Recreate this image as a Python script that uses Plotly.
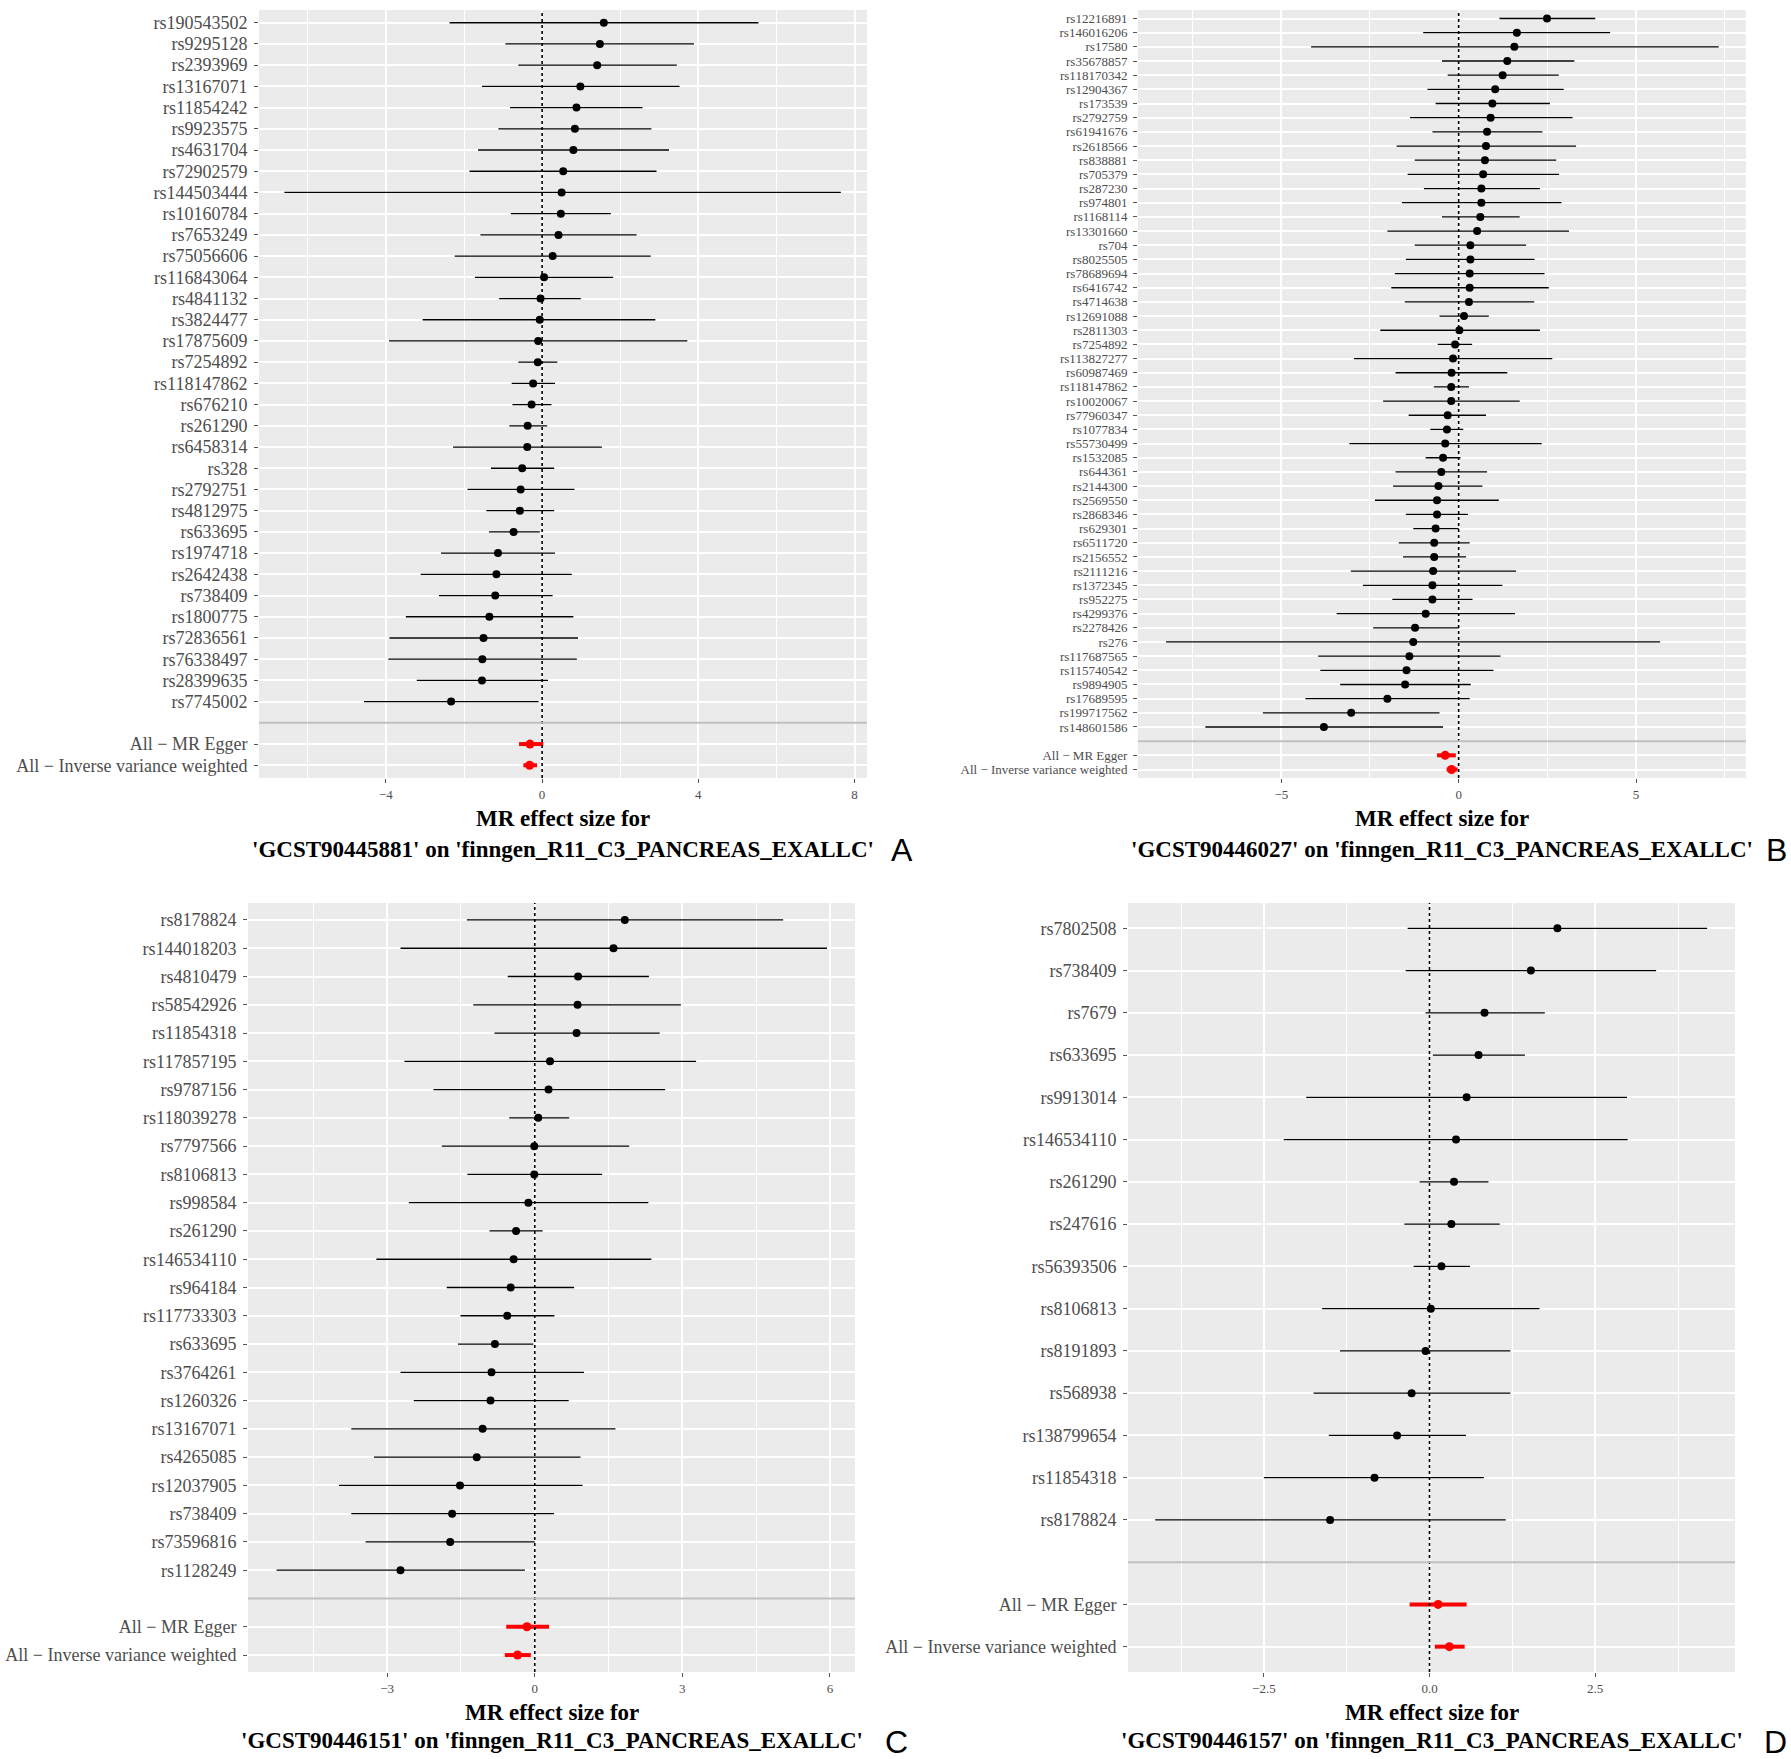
import plotly.graph_objects as go

W, H = 1791, 1759

# ---------------- data ----------------
sum_labels = ["All \u2212 MR Egger", "All \u2212 Inverse variance weighted"]

snps_a = ["rs190543502", "rs9295128", "rs2393969", "rs13167071", "rs11854242", "rs9923575",
          "rs4631704", "rs72902579", "rs144503444", "rs10160784", "rs7653249", "rs75056606",
          "rs116843064", "rs4841132", "rs3824477", "rs17875609", "rs7254892", "rs118147862",
          "rs676210", "rs261290", "rs6458314", "rs328", "rs2792751", "rs4812975", "rs633695",
          "rs1974718", "rs2642438", "rs738409", "rs1800775", "rs72836561", "rs76338497",
          "rs28399635", "rs7745002"]
beta_a = [1.58, 1.48, 1.41, 0.98, 0.88, 0.84, 0.80, 0.54, 0.50, 0.48, 0.42, 0.27, 0.05, -0.04,
          -0.06, -0.10, -0.11, -0.23, -0.27, -0.37, -0.38, -0.51, -0.55, -0.57, -0.73, -1.13,
          -1.17, -1.20, -1.35, -1.50, -1.53, -1.54, -2.33]
lo_a = [-2.37, -0.94, -0.61, -1.54, -0.82, -1.12, -1.64, -1.86, -6.60, -0.80, -1.58, -2.24,
        -1.72, -1.10, -3.06, -3.92, -0.61, -0.78, -0.76, -0.84, -2.28, -1.31, -1.91, -1.43,
        -1.36, -2.59, -3.11, -2.64, -3.49, -3.91, -3.94, -3.21, -4.56]
hi_a = [5.54, 3.89, 3.45, 3.52, 2.57, 2.80, 3.25, 2.93, 7.65, 1.76, 2.42, 2.78, 1.82, 0.99,
        2.90, 3.72, 0.39, 0.33, 0.24, 0.13, 1.53, 0.31, 0.83, 0.31, -0.06, 0.33, 0.76, 0.27,
        0.80, 0.92, 0.89, 0.15, -0.09]
sum_beta_a = [-0.31, -0.32]
sum_lo_a = [-0.59, -0.48]
sum_hi_a = [0.03, -0.13]

snps_b = ["rs12216891", "rs146016206", "rs17580", "rs35678857", "rs118170342", "rs12904367",
          "rs173539", "rs2792759", "rs61941676", "rs2618566", "rs838881", "rs705379", "rs287230",
          "rs974801", "rs1168114", "rs13301660", "rs704", "rs8025505", "rs78689694", "rs6416742",
          "rs4714638", "rs12691088", "rs2811303", "rs7254892", "rs113827277", "rs60987469",
          "rs118147862", "rs10020067", "rs77960347", "rs1077834", "rs55730499", "rs1532085",
          "rs644361", "rs2144300", "rs2569550", "rs2868346", "rs629301", "rs6511720",
          "rs2156552", "rs2111216", "rs1372345", "rs952275", "rs4299376", "rs2278426", "rs276",
          "rs117687565", "rs115740542", "rs9894905", "rs17689595", "rs199717562", "rs148601586"]
beta_b = [2.49, 1.64, 1.57, 1.37, 1.24, 1.03, 0.95, 0.90, 0.80, 0.77, 0.74, 0.69, 0.64, 0.64,
          0.61, 0.52, 0.33, 0.33, 0.31, 0.31, 0.29, 0.15, 0.02, -0.10, -0.16, -0.20, -0.21,
          -0.21, -0.31, -0.33, -0.38, -0.44, -0.49, -0.57, -0.61, -0.61, -0.65, -0.69, -0.69,
          -0.72, -0.74, -0.74, -0.93, -1.23, -1.28, -1.39, -1.47, -1.51, -2.01, -3.03, -3.80]
lo_b = [1.15, -1.00, -4.16, -0.47, -0.31, -0.88, -0.65, -1.37, -0.74, -1.75, -1.24, -1.44,
        -0.98, -1.60, -0.47, -2.01, -1.24, -1.49, -1.80, -1.90, -1.52, -0.54, -2.21, -0.59,
        -2.95, -1.78, -0.70, -2.13, -1.41, -0.80, -3.08, -0.93, -1.78, -1.85, -2.36, -1.49,
        -1.28, -1.69, -1.57, -3.04, -2.70, -1.87, -3.44, -2.41, -8.25, -3.96, -3.90, -3.34,
        -4.32, -5.52, -7.14]
hi_b = [3.85, 4.27, 7.33, 3.26, 2.82, 2.96, 2.57, 3.21, 2.36, 3.31, 2.75, 2.83, 2.29, 2.90,
        1.72, 3.11, 1.90, 2.14, 2.42, 2.54, 2.13, 0.85, 2.29, 0.38, 2.64, 1.37, 0.29, 1.72,
        0.77, 0.13, 2.34, 0.05, 0.80, 0.67, 1.13, 0.26, 0.00, 0.31, 0.21, 1.62, 1.23, 0.39,
        1.59, 0.00, 5.68, 1.18, 0.98, 0.34, 0.31, -0.54, -0.44]
sum_beta_b = [-0.38, -0.20]
sum_lo_b = [-0.61, -0.34]
sum_hi_b = [-0.08, -0.03]

snps_c = ["rs8178824", "rs144018203", "rs4810479", "rs58542926", "rs11854318", "rs117857195",
          "rs9787156", "rs118039278", "rs7797566", "rs8106813", "rs998584", "rs261290",
          "rs146534110", "rs964184", "rs117733303", "rs633695", "rs3764261", "rs1260326",
          "rs13167071", "rs4265085", "rs12037905", "rs738409", "rs73596816", "rs1128249"]
beta_c = [1.83, 1.60, 0.88, 0.87, 0.85, 0.31, 0.28, 0.07, -0.01, -0.01, -0.13, -0.38, -0.43,
          -0.49, -0.56, -0.81, -0.88, -0.90, -1.06, -1.18, -1.52, -1.68, -1.72, -2.73]
lo_c = [-1.38, -2.73, -0.55, -1.25, -0.82, -2.65, -2.06, -0.52, -1.89, -1.37, -2.56, -0.92,
        -3.22, -1.79, -1.51, -1.56, -2.73, -2.46, -3.73, -3.27, -3.98, -3.73, -3.44, -5.25]
hi_c = [5.05, 5.94, 2.32, 2.97, 2.54, 3.28, 2.65, 0.70, 1.92, 1.37, 2.31, 0.16, 2.37, 0.80,
        0.40, -0.03, 1.00, 0.69, 1.64, 0.93, 0.97, 0.39, 0.00, -0.20]
sum_beta_c = [-0.16, -0.35]
sum_lo_c = [-0.58, -0.61]
sum_hi_c = [0.29, -0.08]

snps_d = ["rs7802508", "rs738409", "rs7679", "rs633695", "rs9913014", "rs146534110", "rs261290",
          "rs247616", "rs56393506", "rs8106813", "rs8191893", "rs568938", "rs138799654",
          "rs11854318", "rs8178824"]
beta_d = [1.93, 1.53, 0.83, 0.74, 0.56, 0.40, 0.37, 0.33, 0.18, 0.02, -0.06, -0.27, -0.49,
          -0.83, -1.50]
lo_d = [-0.33, -0.36, -0.06, 0.05, -1.86, -2.20, -0.15, -0.38, -0.24, -1.62, -1.35, -1.75,
        -1.52, -2.50, -4.14]
hi_d = [4.19, 3.42, 1.74, 1.44, 2.98, 2.99, 0.89, 1.06, 0.61, 1.66, 1.22, 1.22, 0.55, 0.82,
        1.15]
sum_beta_d = [0.13, 0.30]
sum_lo_d = [-0.30, 0.08]
sum_hi_d = [0.56, 0.53]

exposures = ["GCST90445881", "GCST90446027", "GCST90446151", "GCST90446157"]
outcome = "finngen_R11_C3_PANCREAS_EXALLC"
letters = ["A", "B", "C", "D"]

# ---------------- layout settings (pixels) ----------------
panels = [
    dict(snps=snps_a, beta=beta_a, lo=lo_a, hi=hi_a, sb=sum_beta_a, sl=sum_lo_a, sh=sum_hi_a,
         px=(259, 867), py=(10, 778), xr=[-7.25, 8.32], dt=4, mdt=2, fmt="", fs=18,
         t1=818, t2=849, let=(902, 850)),
    dict(snps=snps_b, beta=beta_b, lo=lo_b, hi=hi_b, sb=sum_beta_b, sl=sum_lo_b, sh=sum_hi_b,
         px=(1138, 1746), py=(10, 778), xr=[-9.04, 8.10], dt=5, mdt=2.5, fmt="", fs=13,
         t1=818, t2=849, let=(1776, 850)),
    dict(snps=snps_c, beta=beta_c, lo=lo_c, hi=hi_c, sb=sum_beta_c, sl=sum_lo_c, sh=sum_hi_c,
         px=(248, 855), py=(903, 1672), xr=[-5.83, 6.51], dt=3, mdt=1.5, fmt="", fs=18,
         t1=1712, t2=1740, let=(896, 1742)),
    dict(snps=snps_d, beta=beta_d, lo=lo_d, hi=hi_d, sb=sum_beta_d, sl=sum_lo_d, sh=sum_hi_d,
         px=(1128, 1735), py=(903, 1672), xr=[-4.55, 4.61], dt=2.5, mdt=1.25, fmt=".1f", fs=18,
         t1=1712, t2=1740, let=(1775, 1742)),
]

fig = go.Figure()
annotations = []
shapes = []
layout_axes = {}

for k, p in enumerate(panels):
    sfx = "" if k == 0 else str(k + 1)
    xr_, yr_ = "x" + sfx, "y" + sfx
    nsnp = len(p["snps"])
    labels = p["snps"] + sum_labels
    ypos = list(range(nsnp))
    ysum = [nsnp + 1, nsnp + 2]
    n = nsnp + 3

    fig.add_trace(go.Scatter(
        x=p["beta"], y=ypos, mode="markers", xaxis=xr_, yaxis=yr_, showlegend=False,
        marker=dict(color="black", size=8),
        error_x=dict(type="data", symmetric=False,
                     array=[h - b for h, b in zip(p["hi"], p["beta"])],
                     arrayminus=[b - l for b, l in zip(p["beta"], p["lo"])],
                     color="black", thickness=1.3, width=0),
        hoverinfo="skip"))
    fig.add_trace(go.Scatter(
        x=p["sb"], y=ysum, mode="markers", xaxis=xr_, yaxis=yr_, showlegend=False,
        marker=dict(color="#FF0000", size=9),
        error_x=dict(type="data", symmetric=False,
                     array=[h - b for h, b in zip(p["sh"], p["sb"])],
                     arrayminus=[b - l for b, l in zip(p["sb"], p["sl"])],
                     color="#FF0000", thickness=4, width=0),
        hoverinfo="skip"))

    xd = [p["px"][0] / W, p["px"][1] / W]
    yd = [1 - p["py"][1] / H, 1 - p["py"][0] / H]
    layout_axes["xaxis" + sfx] = dict(
        domain=xd, range=p["xr"], anchor=yr_, dtick=p["dt"], tick0=0, tickformat=p["fmt"],
        showgrid=True, gridcolor="white", gridwidth=1.6, zeroline=False, showline=False,
        ticks="outside", ticklen=4, tickcolor="#555555", tickwidth=1,
        tickfont=dict(family="Liberation Serif", size=13, color="#4D4D4D"),
        minor=dict(dtick=p["mdt"], tick0=0, showgrid=True, gridcolor="white", gridwidth=0.8,
                   ticks=""),
        fixedrange=True)
    layout_axes["yaxis" + sfx] = dict(
        domain=yd, range=[n - 1 + 0.6, -0.6], anchor=xr_,
        tickmode="array", tickvals=ypos + ysum, ticktext=labels,
        showgrid=True, gridcolor="white", gridwidth=1.6, zeroline=False, showline=False,
        ticks="outside", ticklen=4, tickcolor="#555555", tickwidth=1, ticklabelstandoff=3,
        tickfont=dict(family="Liberation Serif", size=p["fs"], color="#4D4D4D"),
        fixedrange=True)

    # zero reference line (dotted)
    shapes.append(dict(type="line", xref=xr_, yref="paper", x0=0, x1=0,
                       y0=yd[0], y1=yd[1],
                       line=dict(color="black", width=1.6, dash="dot"), layer="above"))
    # separator line at the blank row
    shapes.append(dict(type="line", xref="paper", yref=yr_, x0=xd[0], x1=xd[1],
                       y0=nsnp, y1=nsnp, line=dict(color="#C0C0C0", width=2),
                       layer="above"))

    cx = (p["px"][0] + p["px"][1]) / 2 / W
    annotations.append(dict(text="<b>MR effect size for</b>", xref="paper", yref="paper",
                            x=cx, y=1 - p["t1"] / H, xanchor="center", yanchor="middle",
                            showarrow=False,
                            font=dict(family="Liberation Serif", size=23, color="black")))
    annotations.append(dict(text="<b>'%s' on '%s'</b>" % (exposures[k], outcome),
                            xref="paper", yref="paper",
                            x=cx, y=1 - p["t2"] / H, xanchor="center", yanchor="middle",
                            showarrow=False,
                            font=dict(family="Liberation Serif", size=23, color="black")))
    annotations.append(dict(text=letters[k], xref="paper", yref="paper",
                            x=p["let"][0] / W, y=1 - p["let"][1] / H, xanchor="center",
                            yanchor="middle", showarrow=False,
                            font=dict(family="Liberation Sans", size=32, color="black")))

fig.update_layout(
    width=W, height=H, margin=dict(l=0, r=0, t=0, b=0),
    paper_bgcolor="white", plot_bgcolor="#EBEBEB",
    showlegend=False, annotations=annotations, shapes=shapes,
    **layout_axes)

fig.write_html("out.html", config={"displayModeBar": False},
               post_script="document.body.style.margin='0';")
